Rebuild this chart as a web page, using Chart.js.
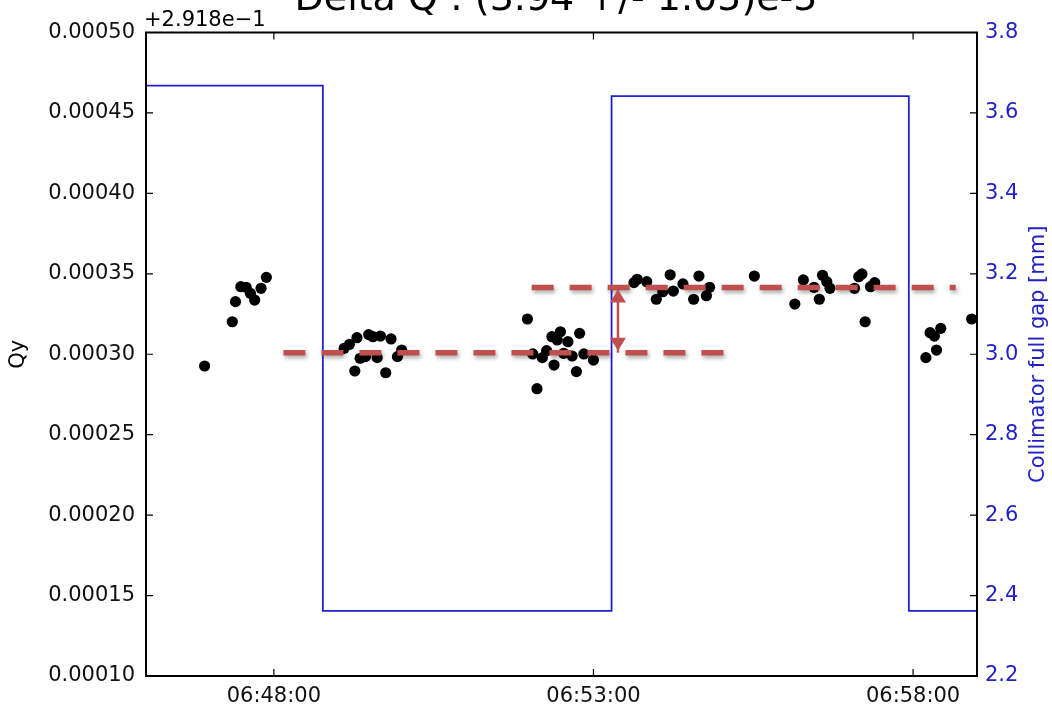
<!DOCTYPE html>
<html><head><meta charset="utf-8">
<script src="https://cdn.jsdelivr.net/npm/chart.js@4.4.0/dist/chart.umd.min.js"></script>
<style>html,body{margin:0;padding:0;background:#fff}#wrap{width:1052px;height:706px;position:relative}</style>
</head><body><div id="wrap"><canvas id="c" width="1052" height="706"></canvas></div>
<script>
// ---------- data ----------
const titleText = 'Delta Q : (3.94 +/- 1.05)e-5';
const offsetText = '+2.918e\u22121';
const leftAxisTitle = 'Qy';
const rightAxisTitle = 'Collimator full gap [mm]';
const xRange = ['06:46:00', '06:59:00'];
const xTickLabels = ['06:48:00', '06:53:00', '06:58:00'];
const leftTicks = [0.00010, 0.00015, 0.00020, 0.00025, 0.00030, 0.00035, 0.00040, 0.00045, 0.00050];
const rightTicks = [2.2, 2.4, 2.6, 2.8, 3.0, 3.2, 3.4, 3.6, 3.8];

const qyTimes = [
  '06:46:55','06:47:21','06:47:24','06:47:29','06:47:34','06:47:38','06:47:42','06:47:48','06:47:53',
  '06:49:06','06:49:11','06:49:16','06:49:18','06:49:21','06:49:26','06:49:29','06:49:33','06:49:37','06:49:40','06:49:45','06:49:50','06:49:56','06:50:00',
  '06:51:58','06:52:03','06:52:07','06:52:12','06:52:16','06:52:21','06:52:23','06:52:26','06:52:29','06:52:32','06:52:36','06:52:40','06:52:44','06:52:47','06:52:51','06:53:00',
  '06:53:38','06:53:41','06:53:50','06:53:59','06:54:05','06:54:12','06:54:15','06:54:24','06:54:34','06:54:39','06:54:46','06:54:49','06:55:31',
  '06:56:09','06:56:17','06:56:27','06:56:32','06:56:35','06:56:39','06:56:42','06:57:05','06:57:09','06:57:12','06:57:15','06:57:20','06:57:24',
  '06:58:12','06:58:16','06:58:20','06:58:22','06:58:26','06:58:55'
];
const qyValues = [
  0.0002927,0.0003202,0.0003327,0.0003420,0.0003416,0.0003379,0.0003337,0.0003410,0.0003478,
  0.0003037,0.0003062,0.0002896,0.0003103,0.0002975,0.0002985,0.0003122,0.0003109,0.0002979,0.0003113,0.0002885,0.0003095,0.0002985,0.0003026,
  0.0003219,0.0003002,0.0002786,0.0002979,0.0003022,0.0003109,0.0002933,0.0003089,0.0003140,0.0003006,0.0003078,0.0002989,0.0002892,0.0003130,0.0003002,0.0002964,
  0.0003445,0.0003466,0.0003451,0.0003342,0.0003389,0.0003494,0.0003393,0.0003437,0.0003342,0.0003486,0.0003364,0.0003416,0.0003486,
  0.0003312,0.0003462,0.0003416,0.0003342,0.0003491,0.0003451,0.0003410,0.0003410,0.0003482,0.0003499,0.0003202,0.0003420,0.0003445,
  0.0002979,0.0003134,0.0003113,0.0003026,0.0003161,0.0003219
];

const gapTimes = ['06:46:00', '06:48:46', '06:53:17', '06:57:56', '06:59:00'];
const gapValues = [3.668, 2.362, 3.642, 2.362, 2.362];

const lowLevelTimes = ['06:48:09', '06:55:02'];
const lowLevelValue = 0.000301;
const highLevelTimes = ['06:52:02', '06:58:40'];
const highLevelValue = 0.0003415;
const arrowTime = '06:53:23';

// ---------- helpers ----------
function toSec(s) { const p = s.split(':').map(Number); return p[0] * 3600 + p[1] * 60 + p[2]; }
function toLabel(v) {
  const h = Math.floor(v / 3600), m = Math.floor((v % 3600) / 60), s = Math.round(v % 60);
  const z = n => String(n).padStart(2, '0');
  return z(h) + ':' + z(m) + ':' + z(s);
}
const FONT = "'DejaVu Sans', 'Liberation Sans', sans-serif";
const RED = '#c0504d';
const BLUE_LINE = '#2020d4';
const BLUE_TEXT = '#2222c4';

const qyData = qyTimes.map((t, i) => ({ x: toSec(t), y: qyValues[i] }));
const gapData = gapTimes.map((t, i) => ({ x: toSec(t), y: gapValues[i] }));
const lowData = lowLevelTimes.map(t => ({ x: toSec(t), y: lowLevelValue }));
const highData = highLevelTimes.map(t => ({ x: toSec(t), y: highLevelValue }));
const arrowData = [{ x: toSec(arrowTime), y: highLevelValue }, { x: toSec(arrowTime), y: lowLevelValue }];

// ---------- plugins ----------
const shadowPlugin = {
  id: 'shadowPlugin',
  beforeDatasetDraw(chart, args) {
    const ds = chart.data.datasets[args.index];
    if (ds.shadow) {
      const ctx = chart.ctx;
      ctx.save();
      ctx.shadowColor = 'rgba(0,0,0,0.35)';
      ctx.shadowBlur = 4;
      ctx.shadowOffsetX = 1.5;
      ctx.shadowOffsetY = 2.5;
    }
  },
  afterDatasetDraw(chart, args) {
    const ds = chart.data.datasets[args.index];
    if (ds.shadow) chart.ctx.restore();
    if (ds.arrowHeads) {
      const pts = args.meta.data;
      if (pts.length < 2) return;
      const ctx = chart.ctx;
      const a = pts[0], b = pts[1];
      const hl = 13, hw = 8, inset = 2;
      ctx.save();
      ctx.fillStyle = ds.borderColor;
      ctx.beginPath();
      ctx.moveTo(a.x, a.y + inset);
      ctx.lineTo(a.x - hw, a.y + inset + hl);
      ctx.lineTo(a.x + hw, a.y + inset + hl);
      ctx.closePath(); ctx.fill();
      ctx.beginPath();
      ctx.moveTo(b.x, b.y - inset);
      ctx.lineTo(b.x - hw, b.y - inset - hl);
      ctx.lineTo(b.x + hw, b.y - inset - hl);
      ctx.closePath(); ctx.fill();
      ctx.restore();
    }
  }
};

const framePlugin = {
  id: 'framePlugin',
  afterDraw(chart) {
    const { ctx, chartArea: ca, scales } = chart;
    const L = 7;
    ctx.save();
    ctx.strokeStyle = '#000';
    ctx.lineWidth = 1.2;
    ctx.beginPath();
    scales.x.ticks.forEach(t => {
      const px = scales.x.getPixelForValue(t.value);
      ctx.moveTo(px, ca.bottom); ctx.lineTo(px, ca.bottom - L);
      ctx.moveTo(px, ca.top); ctx.lineTo(px, ca.top + L);
    });
    scales.y.ticks.forEach(t => {
      const py = scales.y.getPixelForValue(t.value);
      ctx.moveTo(ca.left, py); ctx.lineTo(ca.left + L, py);
    });
    scales.y2.ticks.forEach(t => {
      const py = scales.y2.getPixelForValue(t.value);
      ctx.moveTo(ca.right, py); ctx.lineTo(ca.right - L, py);
    });
    ctx.stroke();
    ctx.lineWidth = 2;
    ctx.strokeRect(ca.left, ca.top, ca.right - ca.left, ca.bottom - ca.top);

    ctx.fillStyle = '#000';
    ctx.font = '38px ' + FONT;
    ctx.textAlign = 'center';
    ctx.textBaseline = 'alphabetic';
    ctx.fillText(titleText, 556, 10);

    ctx.font = '21px ' + FONT;
    ctx.textAlign = 'left';
    ctx.fillText(offsetText, ca.left - 2, 25.5);

    ctx.save();
    ctx.translate(19, (ca.top + ca.bottom) / 2);
    ctx.rotate(-Math.PI / 2);
    ctx.textAlign = 'center';
    ctx.textBaseline = 'middle';
    ctx.fillText(leftAxisTitle, 0, 0);
    ctx.restore();

    ctx.save();
    ctx.fillStyle = BLUE_TEXT;
    ctx.translate(1039, (ca.top + ca.bottom) / 2);
    ctx.rotate(-Math.PI / 2);
    ctx.textAlign = 'center';
    ctx.textBaseline = 'middle';
    ctx.fillText(rightAxisTitle, 0, 0);
    ctx.restore();
    ctx.restore();
  }
};

// ---------- chart ----------
new Chart(document.getElementById('c'), {
  type: 'scatter',
  data: {
    datasets: [
      { type: 'line', label: 'arrow', data: arrowData, yAxisID: 'y', borderColor: RED, borderWidth: 2.5,
        pointRadius: 0, arrowHeads: true, order: 0 },
      { type: 'line', label: 'high level', data: highData, yAxisID: 'y', borderColor: RED, borderWidth: 5.5,
        borderDash: [22, 16], borderCapStyle: 'butt', pointRadius: 0, shadow: true, order: 1 },
      { type: 'line', label: 'low level', data: lowData, yAxisID: 'y', borderColor: RED, borderWidth: 5.5,
        borderDash: [22, 16], borderCapStyle: 'butt', pointRadius: 0, shadow: true, order: 1 },
      { type: 'line', label: 'Collimator gap', data: gapData, yAxisID: 'y2', borderColor: BLUE_LINE, borderWidth: 1.8,
        stepped: 'before', pointRadius: 0, fill: false, order: 2 },
      { type: 'scatter', label: 'Qy', data: qyData, yAxisID: 'y', backgroundColor: '#000', borderWidth: 0,
        pointRadius: 5.6, order: 3 }
    ]
  },
  options: {
    responsive: false,
    animation: false,
    events: [],
    layout: { padding: { top: 32.5, left: 0, right: 0, bottom: 0 } },
    plugins: { legend: { display: false }, tooltip: { enabled: false }, title: { display: false } },
    scales: {
      x: {
        type: 'linear', position: 'bottom',
        min: toSec(xRange[0]), max: toSec(xRange[1]),
        afterBuildTicks: s => { s.ticks = xTickLabels.map(t => ({ value: toSec(t) })); },
        afterFit: s => { s.height = 30; },
        grid: { display: false }, border: { display: false },
        ticks: { callback: v => toLabel(v), color: '#111', font: { family: FONT, size: 21 },
          padding: 0, maxRotation: 0, autoSkip: false }
      },
      y: {
        type: 'linear', position: 'left',
        min: leftTicks[0], max: leftTicks[leftTicks.length - 1],
        afterBuildTicks: s => { s.ticks = leftTicks.map(v => ({ value: v })); },
        afterFit: s => { s.width = 146; },
        grid: { display: false }, border: { display: false },
        ticks: { callback: v => Number(v).toFixed(5), color: '#111', font: { family: FONT, size: 21 }, padding: 3 }
      },
      y2: {
        type: 'linear', position: 'right',
        min: rightTicks[0], max: rightTicks[rightTicks.length - 1],
        afterBuildTicks: s => { s.ticks = rightTicks.map(v => ({ value: v })); },
        afterFit: s => { s.width = 75; },
        grid: { display: false }, border: { display: false },
        ticks: { callback: v => Number(v).toFixed(1), color: BLUE_TEXT, font: { family: FONT, size: 21 }, padding: 0 }
      }
    }
  },
  plugins: [shadowPlugin, framePlugin]
});
</script>
</body></html>
